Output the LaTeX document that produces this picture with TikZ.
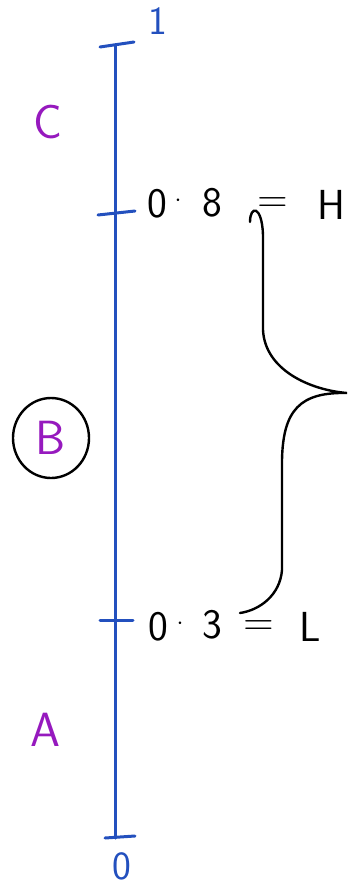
\documentclass[tikz,border=0pt]{standalone}
\usepackage{xcolor}
\definecolor{axblue}{RGB}{35,80,190}
\definecolor{lblpurple}{RGB}{150,25,190}
\begin{document}
\begin{tikzpicture}[x=1pt,y=-1pt,
  axis/.style={draw=axblue,line width=3pt,line cap=round},
  num/.style={font=\sffamily\fontsize{42}{42}\selectfont,inner sep=0pt},
  reg/.style={font=\sffamily\fontsize{48}{48}\selectfont,text=lblpurple,inner sep=0pt},
  endlbl/.style={font=\sffamily\fontsize{40}{40}\selectfont,text=axblue,inner sep=0pt},
  ink/.style={draw=black,line width=2.4pt,line cap=round}]
\useasboundingbox (0,0) rectangle (350,888);
% axis
\coordinate (top) at (115,45);
\coordinate (bot) at (115,838);
\draw[axis] (top) -- (bot);
\coordinate (t1a) at (100,47); \coordinate (t1b) at (134,42);
\draw[axis] (t1a) -- (t1b);
\coordinate (t8a) at (98,215); \coordinate (t8b) at (135,211);
\draw[axis] (t8a) -- (t8b);
\coordinate (t3a) at (100,620); \coordinate (t3b) at (133,620);
\draw[axis] (t3a) -- (t3b);
\coordinate (t0a) at (105,838); \coordinate (t0b) at (135,836);
\draw[axis] (t0a) -- (t0b);
% end labels
\node[endlbl] (one) at (158,21) {1};
\node[endlbl] (zero) at (122,866) {0};
% 0.8 = H
\node[num] (z8) at (157,204) {0};
\node[num] (d8) at (178,201) {$\cdot$};
\node[num] (e8) at (212,203) {8};
\node[num] (eqH) at (273,205) {=};
\node[num] (H) at (331,205) {H};
% 0.3 = L
\node[num] (z3) at (158,627) {0};
\node[num] (d3) at (180,624) {$\cdot$};
\node[num] (e3) at (212,625) {3};
\node[num] (eqL) at (259,628) {=};
\node[num] (L) at (310,627) {L};
% region labels
\node[reg] (C) at (48,122) {C};
\node[reg] (B) at (51,438) {B};
\draw[ink] (B) ellipse (38 and 40);
\node[reg] (A) at (45,730) {A};
% brace
\coordinate (bt) at (250,222);
\coordinate (bp) at (347,393);
\coordinate (bb) at (240,613);
\draw[ink] (bt) .. controls (250,205) and (262,205) .. (263,235)
  -- (263,330) .. controls (265,370) and (310,390) .. (bp)
  .. controls (300,392) and (283,410) .. (282,460)
  -- (282,570) .. controls (280,595) and (260,610) .. (bb);
\end{tikzpicture}
\end{document}
